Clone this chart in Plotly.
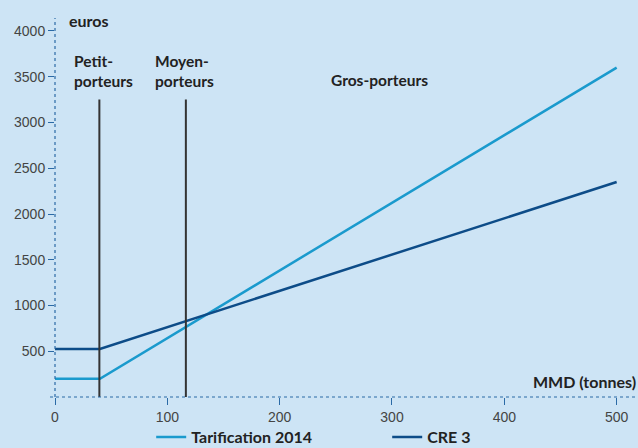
import plotly.graph_objects as go

# Data
x_tarif = [0, 40, 500]
y_tarif = [200, 200, 3600]
x_cre = [0, 40, 500]
y_cre = [525, 525, 2350]
series_names = ["Tarification 2014", "CRE 3"]
thresholds = [39.5, 116.5]
threshold_top = 3250
x_ticks = [0, 100, 200, 300, 400, 500]
y_ticks = [500, 1000, 1500, 2000, 2500, 3000, 3500, 4000]
zone_labels = ["Petit-<br>porteurs", "Moyen-<br>porteurs", "Gros-porteurs"]
zone_label_x = [15, 87.5, 244]
zone_label_y = [3563, 3563, 3465]

BG = "#cde4f5"
C_TARIF = "#1a9acd"
C_CRE = "#0d4c88"
AXC = "#2b6aa6"
TXT = "#222222"
BOLD = "Lato, sans-serif"

fig = go.Figure()
fig.add_trace(go.Scatter(x=x_tarif, y=y_tarif, mode="lines", name=series_names[0],
                         line=dict(color=C_TARIF, width=2.5)))
fig.add_trace(go.Scatter(x=x_cre, y=y_cre, mode="lines", name=series_names[1],
                         line=dict(color=C_CRE, width=2.5)))

shapes = []
for t in thresholds:
    shapes.append(dict(type="line", xref="x", yref="y", x0=t, x1=t, y0=0, y1=threshold_top,
                       line=dict(color="#333333", width=2), layer="above"))
# dotted axis lines
shapes.append(dict(type="line", xref="paper", yref="paper", x0=-5/583, x1=1, y0=0, y1=0,
                   line=dict(color=AXC, width=1.2, dash="dot")))
shapes.append(dict(type="line", xref="paper", yref="paper", x0=0, x1=0, y0=0, y1=1,
                   line=dict(color=AXC, width=1.2, dash="dot")))

annotations = []
annotations.append(dict(text="<b>euros</b>", x=10.5, y=4110, xref="x", yref="y", xanchor="left",
                        yanchor="middle", showarrow=False,
                        font=dict(family=BOLD, size=16, color=TXT)))
for lab, lx, ly in zip(zone_labels, zone_label_x, zone_label_y):
    annotations.append(dict(text="<b>" + lab.replace("<br>", "</b><br><b>") + "</b>", x=lx, y=ly,
                            xref="x", yref="y", xanchor="left",
                            yanchor="middle", align="left", showarrow=False,
                            font=dict(family=BOLD, size=15.5, color=TXT)))
annotations.append(dict(text="<b>MMD (tonnes)</b>", x=1, y=165, xref="paper", yref="y",
                        xanchor="right", yanchor="middle", showarrow=False,
                        font=dict(family=BOLD, size=16, color=TXT)))

fig.update_layout(
    width=638, height=448,
    margin=dict(l=55, r=0, t=18, b=51, autoexpand=False),
    paper_bgcolor=BG, plot_bgcolor=BG,
    shapes=shapes, annotations=annotations,
    showlegend=True,
    legend=dict(orientation="h", x=0.165, xanchor="left", y=-0.106, yanchor="middle",
                font=dict(family=BOLD, size=16, color=TXT, weight="bold"), bgcolor="rgba(0,0,0,0)",
                entrywidth=191, entrywidthmode="pixels", itemwidth=30),
    xaxis=dict(range=[0, 519], tickvals=x_ticks, ticks="outside", ticklen=7,
               tickcolor=AXC, tickwidth=1, showgrid=False, zeroline=False, showline=False,
               automargin=False,
               tickfont=dict(family="Liberation Sans, Arial", size=14, color="#444444")),
    yaxis=dict(range=[0, 4142], tickvals=y_ticks, ticks="outside", ticklen=6,
               tickcolor=AXC, tickwidth=1, showgrid=False, zeroline=False, showline=False,
               automargin=False,
               tickfont=dict(family="Liberation Sans, Arial", size=14, color="#444444")),
)
fig.write_html("out.html", config={"displayModeBar": False},
               post_script="document.body.style.margin='0';document.body.style.padding='0';document.body.style.overflow='hidden';")
